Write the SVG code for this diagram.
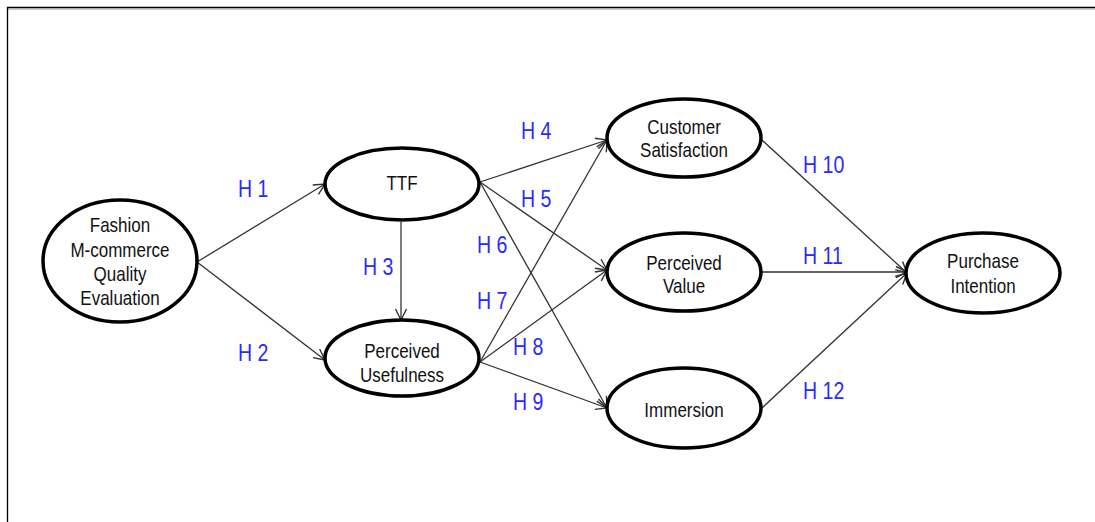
<svg xmlns="http://www.w3.org/2000/svg" width="1095" height="522" viewBox="0 0 1095 522">
  <style>
    .node ellipse { fill: #fff; stroke: #000; stroke-width: 3.5; }
    .node text { font-family: "Liberation Sans", Arial, sans-serif; font-size: 20px; fill: #111; text-anchor: middle; }
    .edge { stroke: #333; stroke-width: 1.3; fill: none; marker-end: url(#arr); }
    .lbl text { font-family: "Liberation Sans", Arial, sans-serif; font-size: 23px; fill: #2a2aff; }
  </style>
  <defs>
    <marker id="arr" markerUnits="userSpaceOnUse" markerWidth="14" markerHeight="14" refX="12" refY="6" orient="auto" viewBox="0 0 14 12">
      <path d="M1,0.5 L12,6 L1,11.5" fill="none" stroke="#333" stroke-width="1.4"/>
    </marker>
  </defs>
  <rect width="1095" height="522" fill="#fff"/>
  <g id="frame">
    <line x1="7" y1="7.5" x2="1095" y2="7.5" stroke="#000" stroke-width="1.6"/>
    <line x1="8" y1="9" x2="1095" y2="9" stroke="#999" stroke-width="1"/>
    <line x1="7.5" y1="7" x2="7.5" y2="522" stroke="#000" stroke-width="1.3"/>
  </g>
  <g id="connectors">
    <line class="edge" x1="197" y1="262" x2="325" y2="184"/>
    <line class="edge" x1="197" y1="262" x2="325" y2="360"/>
    <line class="edge" x1="401" y1="222" x2="401" y2="320"/>
    <line class="edge" x1="480" y1="182" x2="607" y2="140"/>
    <line class="edge" x1="480" y1="182" x2="607" y2="270"/>
    <line class="edge" x1="480" y1="182" x2="607" y2="408"/>
    <line class="edge" x1="480" y1="362" x2="607" y2="140"/>
    <line class="edge" x1="480" y1="362" x2="607" y2="270"/>
    <line class="edge" x1="480" y1="362" x2="607" y2="408"/>
    <line class="edge" x1="762" y1="140" x2="907" y2="273"/>
    <line class="edge" x1="762" y1="272" x2="907" y2="272"/>
    <line class="edge" x1="762" y1="408" x2="907" y2="273"/>
  </g>
  <g id="labels" class="lbl">
    <g transform="translate(238 0) scale(0.85 1)"><text x="0" y="197">H 1</text></g>
    <g transform="translate(238 0) scale(0.85 1)"><text x="0" y="361">H 2</text></g>
    <g transform="translate(363 0) scale(0.85 1)"><text x="0" y="275">H 3</text></g>
    <g transform="translate(521 0) scale(0.85 1)"><text x="0" y="139">H 4</text></g>
    <g transform="translate(521 0) scale(0.85 1)"><text x="0" y="207">H 5</text></g>
    <g transform="translate(477 0) scale(0.85 1)"><text x="0" y="253">H 6</text></g>
    <g transform="translate(477 0) scale(0.85 1)"><text x="0" y="309">H 7</text></g>
    <g transform="translate(513 0) scale(0.85 1)"><text x="0" y="355">H 8</text></g>
    <g transform="translate(513 0) scale(0.85 1)"><text x="0" y="410">H 9</text></g>
    <g transform="translate(803 0) scale(0.85 1)"><text x="0" y="173">H 10</text></g>
    <g transform="translate(803 0) scale(0.85 1)"><text x="0" y="264">H 11</text></g>
    <g transform="translate(803 0) scale(0.85 1)"><text x="0" y="399">H 12</text></g>
  </g>
  <g id="fashion" class="node">
    <ellipse cx="120" cy="261" rx="77" ry="61"/>
    <g transform="translate(120 0) scale(0.85 1)">
      <text x="0" y="232">Fashion</text>
      <text x="0" y="257">M-commerce</text>
      <text x="0" y="281">Quality</text>
      <text x="0" y="305">Evaluation</text>
    </g>
  </g>
  <g id="ttf" class="node">
    <ellipse cx="402" cy="184" rx="77" ry="36"/>
    <g transform="translate(402 0) scale(0.85 1)"><text x="0" y="190">TTF</text></g>
  </g>
  <g id="usefulness" class="node">
    <ellipse cx="402" cy="358" rx="77" ry="38"/>
    <g transform="translate(402 0) scale(0.85 1)">
      <text x="0" y="358">Perceived</text>
      <text x="0" y="382">Usefulness</text>
    </g>
  </g>
  <g id="satisfaction" class="node">
    <ellipse cx="684" cy="138" rx="77" ry="39"/>
    <g transform="translate(684 0) scale(0.85 1)">
      <text x="0" y="134">Customer</text>
      <text x="0" y="157">Satisfaction</text>
    </g>
  </g>
  <g id="value" class="node">
    <ellipse cx="684" cy="272" rx="77" ry="39"/>
    <g transform="translate(684 0) scale(0.85 1)">
      <text x="0" y="270">Perceived</text>
      <text x="0" y="293">Value</text>
    </g>
  </g>
  <g id="immersion" class="node">
    <ellipse cx="684" cy="408" rx="77" ry="40"/>
    <g transform="translate(684 0) scale(0.85 1)"><text x="0" y="417">Immersion</text></g>
  </g>
  <g id="purchase" class="node">
    <ellipse cx="983" cy="273" rx="77" ry="40"/>
    <g transform="translate(983 0) scale(0.85 1)">
      <text x="0" y="268">Purchase</text>
      <text x="0" y="293">Intention</text>
    </g>
  </g>
</svg>
